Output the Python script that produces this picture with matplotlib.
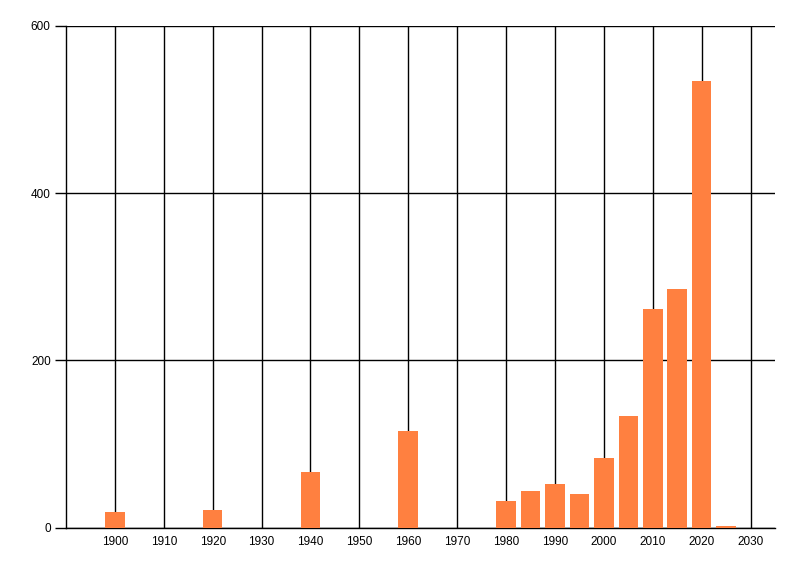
import matplotlib
matplotlib.use("Agg")
import matplotlib.pyplot as plt

# values
years = [1900, 1920, 1940, 1960, 1980, 1985, 1990, 1995, 2000, 2005, 2010, 2015, 2020, 2025]
counts = [18, 21, 66, 115, 32, 44, 52, 40, 83, 133, 261, 285, 534, 2]
x_ticks = list(range(1900, 2031, 10))
y_ticks = [0, 200, 400, 600]

plt.rcParams['font.family'] = ['Liberation Sans', 'DejaVu Sans']

fig = plt.figure(figsize=(8, 5.76), dpi=100)
ax = fig.add_axes([66 / 800, 48.5 / 576, 709 / 800, 501.5 / 576])

ax.bar(years, counts, width=4, color='#ff8040', zorder=3)

ax.set_xlim(1890, 2035)
ax.set_ylim(0, 600)
ax.set_xticks(x_ticks)
ax.set_yticks(y_ticks)
ax.tick_params(axis='x', length=0, pad=6, labelsize=8.5)
ax.tick_params(axis='y', length=8, width=1, labelsize=8.5, pad=3)

ax.grid(True, color='black', linewidth=1, zorder=0)
ax.spines['top'].set_visible(False)
ax.spines['right'].set_visible(False)
ax.spines['left'].set_linewidth(1)
ax.spines['bottom'].set_linewidth(1)

fig.savefig('out.png', dpi=100)
